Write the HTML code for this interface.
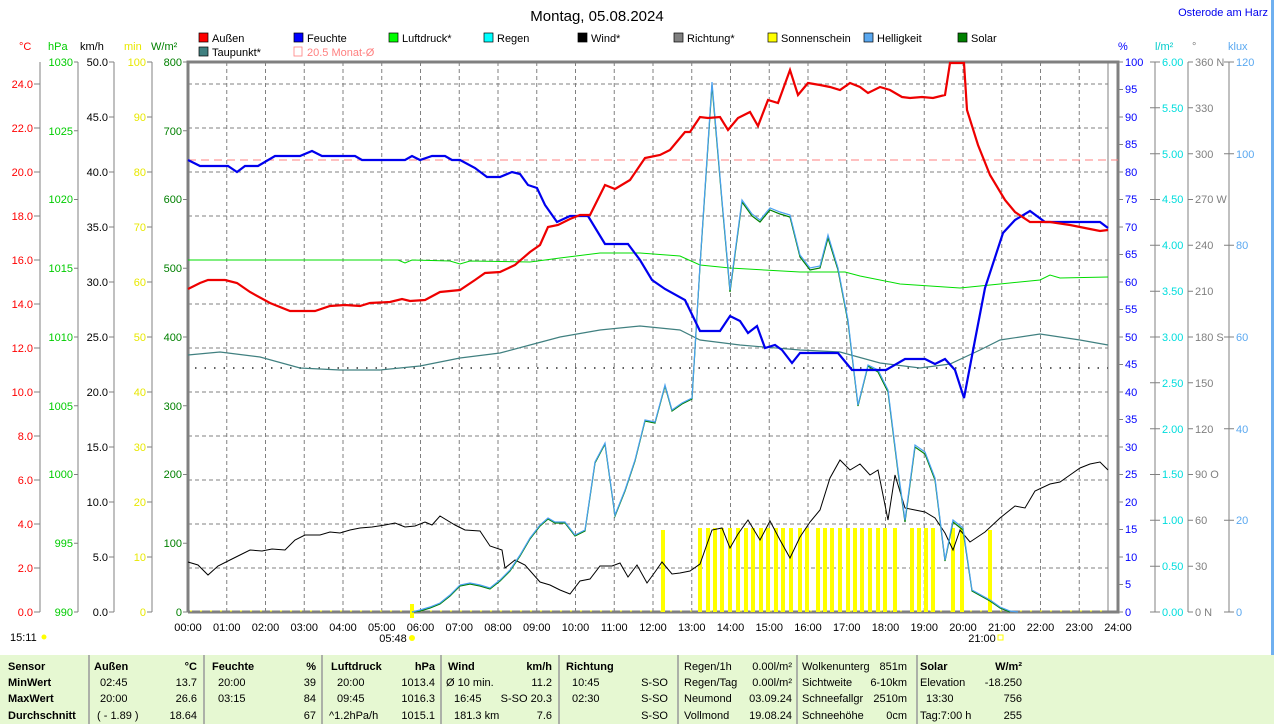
<!DOCTYPE html>
<html><head><meta charset="utf-8"><style>
body{margin:0;background:#fff;}
svg{display:block;font-family:"Liberation Sans",sans-serif;}
</style></head><body>
<svg width="1274" height="724" viewBox="0 0 1274 724" xmlns="http://www.w3.org/2000/svg" font-size="11">
<rect width="1274" height="724" fill="#fff"/>
<text x="597" y="21" font-size="15" text-anchor="middle" fill="#000">Montag, 05.08.2024</text>
<text x="1268" y="16" font-size="11" text-anchor="end" fill="#0000ee">Osterode am Harz</text>
<rect x="1271" y="0" width="3" height="655" fill="#6fb0f0"/>
<!-- legend -->
<g font-size="11">
<rect x="199" y="33" width="9" height="9" fill="#f00" stroke="#000" stroke-width="0.7"/><text x="212" y="42">Außen</text>
<rect x="294" y="33" width="9" height="9" fill="#00f" stroke="#000" stroke-width="0.7"/><text x="307" y="42">Feuchte</text>
<rect x="389" y="33" width="9" height="9" fill="#0f0" stroke="#000" stroke-width="0.7"/><text x="402" y="42">Luftdruck*</text>
<rect x="484" y="33" width="9" height="9" fill="#0ff" stroke="#000" stroke-width="0.7"/><text x="497" y="42">Regen</text>
<rect x="578" y="33" width="9" height="9" fill="#000" stroke="#000" stroke-width="0.7"/><text x="591" y="42">Wind*</text>
<rect x="674" y="33" width="9" height="9" fill="#808080" stroke="#000" stroke-width="0.7"/><text x="687" y="42">Richtung*</text>
<rect x="768" y="33" width="9" height="9" fill="#ff0" stroke="#000" stroke-width="0.7"/><text x="781" y="42">Sonnenschein</text>
<rect x="864" y="33" width="9" height="9" fill="#5aa8f0" stroke="#000" stroke-width="0.7"/><text x="877" y="42">Helligkeit</text>
<rect x="958" y="33" width="9" height="9" fill="#008000" stroke="#000" stroke-width="0.7"/><text x="971" y="42">Solar</text>
<rect x="199" y="47" width="9" height="9" fill="#408080" stroke="#000" stroke-width="0.7"/><text x="212" y="56">Taupunkt*</text>
<rect x="294" y="47" width="8" height="9" fill="none" stroke="#ff8080" stroke-width="0.8"/><text x="307" y="56" fill="#ff8080">20.5 Monat-Ø</text>
</g>
<!-- axis titles -->
<text x="19" y="50" fill="#f00">°C</text>
<text x="48" y="50" fill="#0c0">hPa</text>
<text x="80" y="50" fill="#000">km/h</text>
<text x="124" y="50" fill="#e8e800">min</text>
<text x="151" y="50" fill="#008000">W/m²</text>
<text x="1118" y="50" fill="#00f">%</text>
<text x="1155" y="50" fill="#0cc">l/m²</text>
<text x="1192" y="50" fill="#808080">°</text>
<text x="1228" y="50" fill="#5aa8f0">klux</text>
<!-- grid -->
<g stroke="#808080" stroke-dasharray="4,3" stroke-width="1">
<path d="M188 84H1108M188 128H1108M188 172H1108M188 216H1108M188 260H1108M188 304H1108M188 348H1108M188 392H1108M188 436H1108M188 480H1108M188 524H1108M188 568H1108"/>
<path d="M226.75 62V612M265.5 62V612M304.25 62V612M343 62V612M381.75 62V612M420.5 62V612M459.25 62V612M498 62V612M536.75 62V612M575.5 62V612M614.25 62V612M653 62V612M691.75 62V612M730.5 62V612M769.25 62V612M808 62V612M846.75 62V612M885.5 62V612M924.25 62V612M963 62V612M1001.75 62V612M1040.5 62V612M1079.25 62V612"/>
</g>
<path d="M188 612V62H1118V612H188" fill="none" stroke="#808080" stroke-width="3"/>
<path d="M1108 62V612" stroke="#808080" stroke-width="1"/>
<!-- left axes -->
<g stroke="#808080" stroke-width="1" fill="none">
<path d="M40 62V612M78 62V612M114 62V612M152 62V612"/>
<path d="M34 612H40M34 568H40M34 524H40M34 480H40M34 436H40M34 392H40M34 348H40M34 304H40M34 260H40M34 216H40M34 172H40M34 128H40M34 84H40"/>
<path d="M74 612H78M74 543.25H78M74 474.5H78M74 405.75H78M74 337H78M74 268.25H78M74 199.5H78M74 130.75H78M74 62H78"/>
<path d="M109 612H114M109 557H114M109 502H114M109 447H114M109 392H114M109 337H114M109 282H114M109 227H114M109 172H114M109 117H114M109 62H114"/>
<path d="M147 612H152M147 557H152M147 502H152M147 447H152M147 392H152M147 337H152M147 282H152M147 227H152M147 172H152M147 117H152M147 62H152"/>
<path d="M183 612H188M183 543.25H188M183 474.5H188M183 405.75H188M183 337H188M183 268.25H188M183 199.5H188M183 130.75H188M183 62H188"/>
<path d="M1118 62V612M1118 612H1123M1118 584.5H1123M1118 557H1123M1118 529.5H1123M1118 502H1123M1118 474.5H1123M1118 447H1123M1118 419.5H1123M1118 392H1123M1118 364.5H1123M1118 337H1123M1118 309.5H1123M1118 282H1123M1118 254.5H1123M1118 227H1123M1118 199.5H1123M1118 172H1123M1118 144.5H1123M1118 117H1123M1118 89.5H1123M1118 62H1123"/>
<path d="M1155 62V612M1188 62V612M1229 62V612"/>
<path d="M1150 612H1160M1150 566.2H1160M1150 520.3H1160M1150 474.5H1160M1150 428.7H1160M1150 382.8H1160M1150 337H1160M1150 291.2H1160M1150 245.3H1160M1150 199.5H1160M1150 153.7H1160M1150 107.8H1160M1150 62H1160"/>
<path d="M1188 612H1193M1188 566.2H1193M1188 520.3H1193M1188 474.5H1193M1188 428.7H1193M1188 382.8H1193M1188 337H1193M1188 291.2H1193M1188 245.3H1193M1188 199.5H1193M1188 153.7H1193M1188 107.8H1193M1188 62H1193"/>
<path d="M1224 612H1234M1224 520.3H1234M1224 428.7H1234M1224 337H1234M1224 245.3H1234M1224 153.7H1234M1224 62H1234"/>
</g>
<g fill="#f00" text-anchor="end">
<text x="33" y="616">0.0</text><text x="33" y="572">2.0</text><text x="33" y="528">4.0</text><text x="33" y="484">6.0</text><text x="33" y="440">8.0</text><text x="33" y="396">10.0</text><text x="33" y="352">12.0</text><text x="33" y="308">14.0</text><text x="33" y="264">16.0</text><text x="33" y="220">18.0</text><text x="33" y="176">20.0</text><text x="33" y="132">22.0</text><text x="33" y="88">24.0</text>
</g>
<g fill="#0c0" text-anchor="end">
<text x="73" y="616">990</text><text x="73" y="547">995</text><text x="73" y="478">1000</text><text x="73" y="410">1005</text><text x="73" y="341">1010</text><text x="73" y="272">1015</text><text x="73" y="203">1020</text><text x="73" y="135">1025</text><text x="73" y="66">1030</text>
</g>
<g fill="#000" text-anchor="end">
<text x="108" y="616">0.0</text><text x="108" y="561">5.0</text><text x="108" y="506">10.0</text><text x="108" y="451">15.0</text><text x="108" y="396">20.0</text><text x="108" y="341">25.0</text><text x="108" y="286">30.0</text><text x="108" y="231">35.0</text><text x="108" y="176">40.0</text><text x="108" y="121">45.0</text><text x="108" y="66">50.0</text>
</g>
<g fill="#e8e800" text-anchor="end">
<text x="146" y="616">0</text><text x="146" y="561">10</text><text x="146" y="506">20</text><text x="146" y="451">30</text><text x="146" y="396">40</text><text x="146" y="341">50</text><text x="146" y="286">60</text><text x="146" y="231">70</text><text x="146" y="176">80</text><text x="146" y="121">90</text><text x="146" y="66">100</text>
</g>
<g fill="#008000" text-anchor="end">
<text x="182" y="616">0</text><text x="182" y="547">100</text><text x="182" y="478">200</text><text x="182" y="410">300</text><text x="182" y="341">400</text><text x="182" y="272">500</text><text x="182" y="203">600</text><text x="182" y="135">700</text><text x="182" y="66">800</text>
</g>
<g fill="#00f">
<text x="1125" y="616">0</text><text x="1125" y="588">5</text><text x="1125" y="561">10</text><text x="1125" y="533">15</text><text x="1125" y="506">20</text><text x="1125" y="478">25</text><text x="1125" y="451">30</text><text x="1125" y="423">35</text><text x="1125" y="396">40</text><text x="1125" y="368">45</text><text x="1125" y="341">50</text><text x="1125" y="313">55</text><text x="1125" y="286">60</text><text x="1125" y="258">65</text><text x="1125" y="231">70</text><text x="1125" y="203">75</text><text x="1125" y="176">80</text><text x="1125" y="148">85</text><text x="1125" y="121">90</text><text x="1125" y="93">95</text><text x="1125" y="66">100</text>
</g>
<g fill="#0dd">
<text x="1162" y="616">0.00</text><text x="1162" y="570">0.50</text><text x="1162" y="524">1.00</text><text x="1162" y="478">1.50</text><text x="1162" y="433">2.00</text><text x="1162" y="387">2.50</text><text x="1162" y="341">3.00</text><text x="1162" y="295">3.50</text><text x="1162" y="249">4.00</text><text x="1162" y="203">4.50</text><text x="1162" y="158">5.00</text><text x="1162" y="112">5.50</text><text x="1162" y="66">6.00</text>
</g>
<g fill="#808080">
<text x="1195" y="616">0   N</text><text x="1195" y="570">30</text><text x="1195" y="524">60</text><text x="1195" y="478">90   O</text><text x="1195" y="433">120</text><text x="1195" y="387">150</text><text x="1195" y="341">180  S</text><text x="1195" y="295">210</text><text x="1195" y="249">240</text><text x="1195" y="203">270 W</text><text x="1195" y="158">300</text><text x="1195" y="112">330</text><text x="1195" y="66">360 N</text>
</g>
<g fill="#5aa8f0">
<text x="1236" y="616">0</text><text x="1236" y="524">20</text><text x="1236" y="433">40</text><text x="1236" y="341">60</text><text x="1236" y="249">80</text><text x="1236" y="158">100</text><text x="1236" y="66">120</text>
</g>
<!-- x labels -->
<g text-anchor="middle" fill="#000">
<text x="188" y="631">00:00</text><text x="226.75" y="631">01:00</text><text x="265.5" y="631">02:00</text><text x="304.25" y="631">03:00</text><text x="343" y="631">04:00</text><text x="381.75" y="631">05:00</text><text x="420.5" y="631">06:00</text><text x="459.25" y="631">07:00</text><text x="498" y="631">08:00</text><text x="536.75" y="631">09:00</text><text x="575.5" y="631">10:00</text><text x="614.25" y="631">11:00</text><text x="653" y="631">12:00</text><text x="691.75" y="631">13:00</text><text x="730.5" y="631">14:00</text><text x="769.25" y="631">15:00</text><text x="808" y="631">16:00</text><text x="846.75" y="631">17:00</text><text x="885.5" y="631">18:00</text><text x="924.25" y="631">19:00</text><text x="963" y="631">20:00</text><text x="1001.75" y="631">21:00</text><text x="1040.5" y="631">22:00</text><text x="1079.25" y="631">23:00</text><text x="1118" y="631">24:00</text>
<text x="393" y="642">05:48</text><text x="982" y="642">21:00</text>
</g>
<text x="10" y="641">15:11</text>
<circle cx="44" cy="637" r="2.5" fill="#ff0"/>
<circle cx="412" cy="638" r="3" fill="#ff0"/>
<rect x="998" y="635" width="5" height="5" fill="none" stroke="#ff0"/>
<!-- baseline yellow dots -->
<path d="M190 611H1108" stroke="#ff0" stroke-width="1" stroke-dasharray="2,8"/>
<!-- red dashed avg -->
<path d="M188 160H1118" stroke="#ff8080" stroke-width="1" stroke-dasharray="8,5"/>
<!-- sunshine bars -->
<g stroke="#ff0" stroke-width="4">
<path d="M663 530V612M700 528V612M708 528V612M715 528V612M722 528V612M730 528V612M738 528V612M746 528V612M753 528V612M761 528V612M768 528V612M776 528V612M783 528V612M791 528V612M800 528V612M807 528V612M818 528V612M825 528V612M832 528V612M840 528V612M848 528V612M855 528V612M862 528V612M870 528V612M878 528V612M885 528V612M895 528V612M912 528V612M919 528V612M926 528V612M933 528V612M953 528V612M962 528V612M990 530V612M412 604V618"/>
</g>
<!-- Richtung dots -->
<path d="M195 368H1108" stroke="#606060" stroke-width="2" stroke-dasharray="1.5,8"/>
<!-- Taupunkt -->
<polyline fill="none" stroke="#408080" stroke-width="1.2" points="188,355 220,352 260,357 300,368 340,370 380,370 420,366 460,358 500,353 530,345 560,337 600,330 640,326 680,330 700,340 740,345 800,350 840,352 880,363 920,368 950,364 980,350 1000,340 1040,334 1080,340 1108,345"/>
<!-- Luftdruck -->
<polyline fill="none" stroke="#0d0" stroke-width="1" points="188,260 300,260 398,260 405,263 412,260 450,261 460,264 470,261 530,262 560,258 600,253 640,253 680,256 700,265 730,268 800,272 845,272 860,276 900,284 960,288 1000,284 1040,280 1050,275 1060,278 1108,277"/>
<!-- Wind -->
<polyline fill="none" stroke="#000" stroke-width="1" points="188,562 198,565 208,575 218,566 230,560 240,555 250,550 262,551 272,549 285,550 295,540 305,535 320,535 330,532 340,533 350,530 360,528 372,527 385,525 395,523 405,527 415,526 425,522 432,525 440,516 455,525 465,530 480,531 490,546 502,550 505,568 515,560 525,565 540,582 550,585 560,590 570,594 580,581 590,579 600,566 612,566 620,563 628,577 637,565 647,583 655,572 662,562 672,574 680,573 690,571 700,564 712,530 722,528 730,548 738,534 748,520 760,540 770,521 780,540 790,558 800,537 810,522 820,510 830,478 840,460 850,470 860,464 870,475 878,470 888,520 895,475 905,508 915,510 925,512 935,518 945,533 953,550 960,530 970,542 985,532 1000,518 1015,506 1025,508 1035,491 1050,484 1060,482 1070,475 1080,468 1090,464 1100,462 1108,470"/>
<!-- Solar / Helligkeit -->
<polyline fill="none" stroke="#008000" stroke-width="1.2" points="412,612 420,611 430,608 440,604 450,596 460,586 470,584 480,586 490,589 500,581 510,571 520,556 530,539 540,526 548,519 555,523 565,523 575,536 585,531 595,463 605,444 615,516 625,491 635,461 645,421 655,423 665,386 672,411 682,404 692,399 700,266 712,85 722,202 730,292 742,202 752,216 760,222 770,210 780,214 790,217 800,257 810,270 820,268 828,238 838,270 848,322 858,406 868,366 878,372 888,392 898,472 905,522 915,447 925,454 935,480 945,561 953,522 963,530 972,591 990,601 1000,608 1010,612"/>
<polyline fill="none" stroke="#4aa0f0" stroke-width="1.2" points="412,612 420,610 430,607 440,603 450,595 460,585 470,583 480,585 490,588 500,580 510,570 520,555 530,538 540,525 548,518 555,522 565,522 575,535 585,530 595,462 605,443 615,515 625,490 635,460 645,420 655,422 665,385 672,410 682,403 692,398 700,265 712,82 722,200 730,290 742,200 752,214 760,220 770,208 780,212 790,215 800,255 810,268 820,266 828,235 838,268 848,320 858,405 868,365 878,370 888,390 898,470 905,520 915,445 925,452 935,478 945,560 953,520 963,528 972,590 990,600 1000,607 1010,611 1018,612"/>
<!-- Feuchte -->
<polyline fill="none" stroke="#0000ee" stroke-width="2.2" points="188,160 200,166 228,166 237,172 245,166 258,166 275,156 300,156 312,151 322,156 355,156 362,160 405,160 412,156 420,160 432,156 445,156 452,160 460,160 475,168 487,177 500,177 512,172 520,174 528,185 537,188 545,205 557,222 570,216 588,216 605,244 628,244 640,260 652,280 665,289 685,300 700,331 720,331 730,316 740,321 748,333 757,326 765,348 775,345 782,350 792,363 800,353 838,353 852,370 886,370 905,359 925,359 935,364 945,359 955,370 964,398 975,340 985,288 1003,233 1015,220 1030,211 1045,222 1100,222 1108,228"/>
<!-- Aussen -->
<polyline fill="none" stroke="#ee0000" stroke-width="2.2" points="188,289 200,283 208,280 225,280 237,283 250,292 270,303 290,311 315,311 330,306 345,305 360,306 370,303 390,302 402,299 410,301 425,300 440,292 460,290 475,280 485,273 500,272 515,265 530,252 540,245 548,227 558,225 570,219 580,215 590,215 605,185 615,189 630,180 645,158 660,155 670,150 685,132 690,132 700,117 708,118 720,117 728,130 738,118 750,112 758,126 768,100 778,103 790,70 798,95 808,83 820,85 830,87 840,90 850,83 860,87 868,93 880,87 890,90 902,97 910,98 922,97 933,98 945,95 950,63 964,63 967,110 978,145 990,175 1005,200 1015,212 1030,222 1050,222 1070,225 1090,229 1100,231 1108,230"/>
<!-- table -->
<rect x="0" y="655" width="1274" height="69" fill="#e6f8d2"/>
<g stroke="#999" stroke-width="1.5">
<path d="M89 655V724M204 655V724M322 655V724M441 655V724M559 655V724M678 655V724M797 655V724M917 655V724"/>
</g>
<g font-size="11" fill="#000">
<g font-weight="bold">
<text x="8" y="670">Sensor</text><text x="8" y="686">MinWert</text><text x="8" y="702">MaxWert</text><text x="8" y="719">Durchschnitt</text>
<text x="94" y="670">Außen</text><text x="197" y="670" text-anchor="end">°C</text>
<text x="212" y="670">Feuchte</text><text x="316" y="670" text-anchor="end">%</text>
<text x="331" y="670">Luftdruck</text><text x="435" y="670" text-anchor="end">hPa</text>
<text x="448" y="670">Wind</text><text x="552" y="670" text-anchor="end">km/h</text>
<text x="566" y="670">Richtung</text>
<text x="920" y="670">Solar</text><text x="1022" y="670" text-anchor="end">W/m²</text>
</g>
<text x="100" y="686">02:45</text><text x="197" y="686" text-anchor="end">13.7</text>
<text x="100" y="702">20:00</text><text x="197" y="702" text-anchor="end">26.6</text>
<text x="97" y="719">( - 1.89 )</text><text x="197" y="719" text-anchor="end">18.64</text>
<text x="218" y="686">20:00</text><text x="316" y="686" text-anchor="end">39</text>
<text x="218" y="702">03:15</text><text x="316" y="702" text-anchor="end">84</text>
<text x="316" y="719" text-anchor="end">67</text>
<text x="337" y="686">20:00</text><text x="435" y="686" text-anchor="end">1013.4</text>
<text x="337" y="702">09:45</text><text x="435" y="702" text-anchor="end">1016.3</text>
<text x="329" y="719">^1.2hPa/h</text><text x="435" y="719" text-anchor="end">1015.1</text>
<text x="446" y="686">Ø 10 min.</text><text x="552" y="686" text-anchor="end">11.2</text>
<text x="454" y="702">16:45</text><text x="552" y="702" text-anchor="end">S-SO 20.3</text>
<text x="454" y="719">181.3 km</text><text x="552" y="719" text-anchor="end">7.6</text>
<text x="572" y="686">10:45</text><text x="668" y="686" text-anchor="end">S-SO</text>
<text x="572" y="702">02:30</text><text x="668" y="702" text-anchor="end">S-SO</text>
<text x="668" y="719" text-anchor="end">S-SO</text>
<text x="684" y="670">Regen/1h</text><text x="792" y="670" text-anchor="end">0.00l/m²</text>
<text x="684" y="686">Regen/Tag</text><text x="792" y="686" text-anchor="end">0.00l/m²</text>
<text x="684" y="702">Neumond</text><text x="792" y="702" text-anchor="end">03.09.24</text>
<text x="684" y="719">Vollmond</text><text x="792" y="719" text-anchor="end">19.08.24</text>
<text x="802" y="670">Wolkenunterg</text><text x="907" y="670" text-anchor="end">851m</text>
<text x="802" y="686">Sichtweite</text><text x="907" y="686" text-anchor="end">6-10km</text>
<text x="802" y="702">Schneefallgr</text><text x="907" y="702" text-anchor="end">2510m</text>
<text x="802" y="719">Schneehöhe</text><text x="907" y="719" text-anchor="end">0cm</text>
<text x="920" y="686">Elevation</text><text x="1022" y="686" text-anchor="end">-18.250</text>
<text x="926" y="702">13:30</text><text x="1022" y="702" text-anchor="end">756</text>
<text x="920" y="719">Tag:7:00 h</text><text x="1022" y="719" text-anchor="end">255</text>
</g>
</svg>
</body></html>
